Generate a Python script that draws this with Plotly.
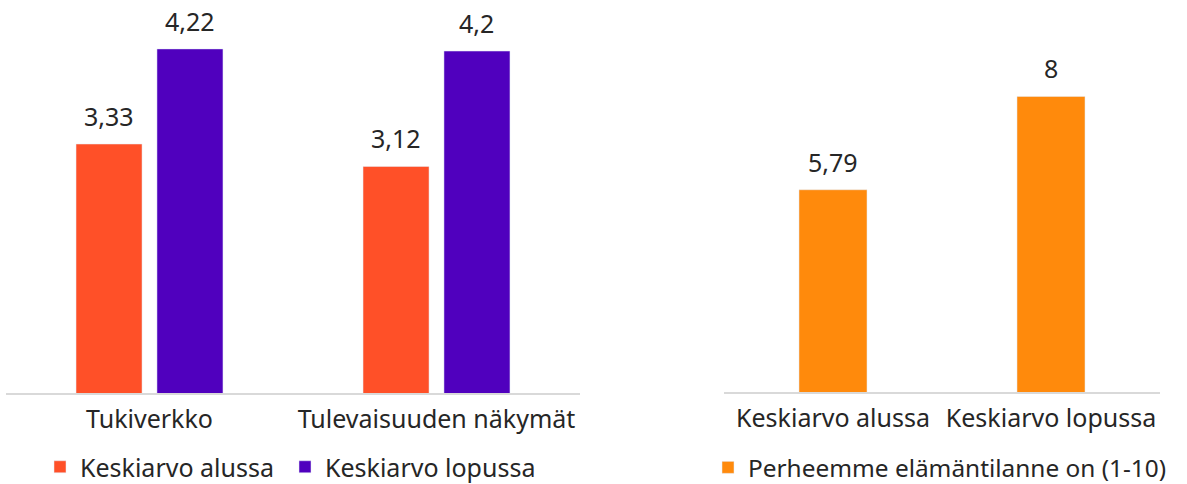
import plotly.graph_objects as go

# ---- data ----
left_categories = ["Tukiverkko", "Tulevaisuuden näkymät"]
left_series_names = ["Keskiarvo alussa", "Keskiarvo lopussa"]
left_start = [3.33, 3.12]
left_end = [4.22, 4.2]

right_categories = ["Keskiarvo alussa", "Keskiarvo lopussa"]
right_series_name = "Perheemme elämäntilanne on (1-10)"
right_values = [5.79, 8]

# ---- styling ----
W, H = 1187, 484
FONT = "Noto Sans"
TXT = "#262626"
FS = 25
C_START = "#FF5028"
C_END = "#5000BE"
C_RIGHT = "#FF8A0C"

def fmt(v):
    s = f"{v:.2f}".rstrip("0").rstrip(".")
    return s.replace(".", ",")

fig = go.Figure()

bw_l = 0.23
fig.add_trace(go.Bar(x=left_categories, y=left_start, name=left_series_names[0],
                     marker_color=C_START, width=bw_l, offset=-0.256,
                     xaxis="x", yaxis="y", legend="legend"))
fig.add_trace(go.Bar(x=left_categories, y=left_end, name=left_series_names[1],
                     marker_color=C_END, width=bw_l, offset=0.026,
                     xaxis="x", yaxis="y", legend="legend3"))
fig.add_trace(go.Bar(x=right_categories, y=right_values, name=right_series_name,
                     marker_color=C_RIGHT, width=0.312, offset=-0.156,
                     xaxis="x2", yaxis="y2", legend="legend2", showlegend=True))

annotations = []
for i, c in enumerate(left_categories):
    annotations.append(dict(x=i, y=left_start[i], xref="x", yref="y", text=fmt(left_start[i]),
                            showarrow=False, yanchor="bottom", yshift=9,
                            xshift=(-0.256 + bw_l / 2) * 287))
    annotations.append(dict(x=i, y=left_end[i], xref="x", yref="y", text=fmt(left_end[i]),
                            showarrow=False, yanchor="bottom", yshift=9,
                            xshift=(0.026 + bw_l / 2) * 287))
for i, c in enumerate(right_categories):
    annotations.append(dict(x=i, y=right_values[i], xref="x2", yref="y2", text=fmt(right_values[i]),
                            showarrow=False, yanchor="bottom", yshift=9))
for a in annotations:
    a["font"] = dict(family=FONT, size=FS, color=TXT)

axis_common = dict(showgrid=False, zeroline=False, showline=True, linecolor="#D9D9D9",
                   linewidth=2, ticks="", tickfont=dict(family=FONT, size=FS, color=TXT),
                   fixedrange=True, automargin=False, ticklabelstandoff=3)

legend_common = dict(orientation="h", xref="container", yref="container",
                     xanchor="left", yanchor="middle", itemwidth=30,
                     bgcolor="rgba(0,0,0,0)")

fig.update_layout(
    width=W, height=H, autosize=False,
    margin=dict(l=0, r=0, t=0, b=0, autoexpand=False),
    paper_bgcolor="white", plot_bgcolor="white",
    barmode="overlay",
    font=dict(family=FONT, size=FS, color=TXT),
    xaxis=dict(domain=[6 / W, 580 / W], anchor="y", type="category", **axis_common),
    yaxis=dict(domain=[91 / H, 465 / H], range=[1, 4.5], visible=False, fixedrange=True),
    xaxis2=dict(domain=[724 / W, 1160 / W], anchor="y2", type="category", **axis_common),
    yaxis2=dict(domain=[92 / H, 472 / H], range=[1, 10], visible=False, fixedrange=True),
    legend=dict(x=40 / W, y=17 / H, font=dict(family=FONT, size=FS, color=TXT), **legend_common),
    legend3=dict(x=285 / W, y=17 / H, font=dict(family=FONT, size=FS, color=TXT), **legend_common),
    legend2=dict(x=708 / W, y=16.5 / H, font=dict(family=FONT, size=24.4, color=TXT), **legend_common),
    annotations=annotations,
    showlegend=True,
)

fig.write_html("out.html", config={"displayModeBar": False},
               post_script="document.body.style.margin='0';")
